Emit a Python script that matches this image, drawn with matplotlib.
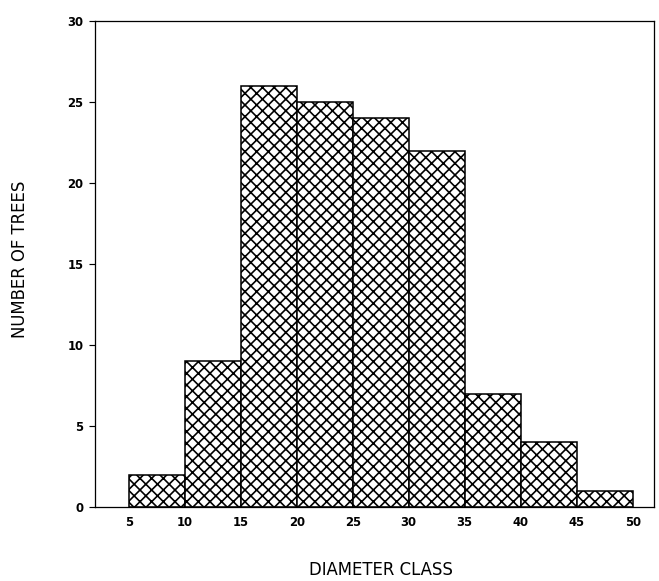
import matplotlib
matplotlib.use("Agg")
import matplotlib.pyplot as plt

# diameter classes (left edges) and tree counts
class_edges = [5, 10, 15, 20, 25, 30, 35, 40, 45, 50]
tree_counts = [2, 9, 26, 25, 24, 22, 7, 4, 1]
x_tick_labels = ["5", "10", "15", "20", "25", "30", "35", "40", "45", "50"]
y_ticks = [0, 5, 10, 15, 20, 25, 30]

DPI = 70
plt.rcParams['hatch.linewidth'] = 1.7
plt.rcParams['font.family'] = ['DejaVu Sans']

fig = plt.figure(figsize=(659 / DPI, 581 / DPI), dpi=DPI)
ax = fig.add_axes([0.1442, 0.1274, 0.8482, 0.8365])

widths = [class_edges[i + 1] - class_edges[i] for i in range(len(tree_counts))]
ax.bar(class_edges[:-1], tree_counts, width=widths, align='edge',
       color='white', edgecolor='black', linewidth=1.6, hatch='xx')

ax.set_xlim(2, 51.9)
ax.set_ylim(0, 30)
ax.set_xticks(class_edges)
ax.set_xticklabels(x_tick_labels, fontsize=12, fontweight='bold')
ax.set_yticks(y_ticks)
ax.set_yticklabels([str(v) for v in y_ticks], fontsize=12, fontweight='bold')
ax.tick_params(axis='x', length=0, pad=9)
ax.tick_params(axis='y', length=6, width=1.2, direction='out', pad=6)

for s in ax.spines.values():
    s.set_linewidth(1.3)

fig.text(20 / 659, 1 - 259 / 581, "NUMBER OF TREES", rotation=90,
         ha='center', va='center', fontsize=17)
fig.text(381 / 659, 1 - 570 / 581, "DIAMETER CLASS",
         ha='center', va='center', fontsize=17)

fig.savefig("out.png", dpi=DPI)
